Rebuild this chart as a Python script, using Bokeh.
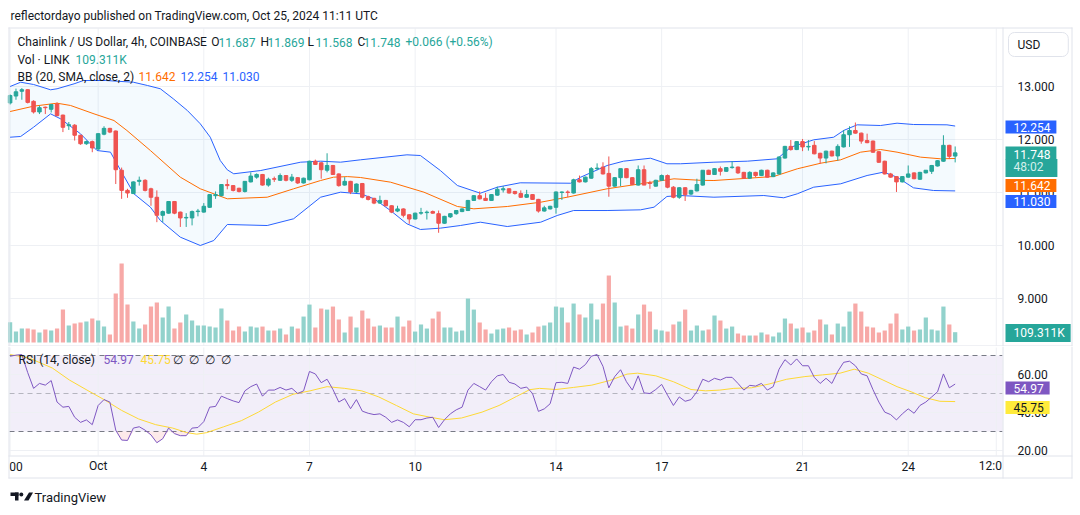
import numpy as np
from bokeh.plotting import figure
from bokeh.layouts import column
from bokeh.models import Range1d, Label
from bokeh.core.properties import value
from bokeh.embed import file_html
from bokeh.resources import INLINE

# ---------------- data (4h candles, Sep 28 12:00 -> Oct 25 08:00) ----------------
opens = [12.69, 12.82, 12.91, 12.94, 12.72, 12.52, 12.61, 12.57, 12.67, 12.46,
 12.26, 12.27, 12.08, 11.92, 11.96, 11.82, 12.10, 12.21, 12.16, 11.42,
 11.04, 10.98, 11.21, 11.23, 11.07, 10.91, 10.57, 10.61, 10.83, 10.63,
 10.52, 10.52, 10.64, 10.63, 10.72, 10.94, 10.94, 11.15, 11.13, 11.08,
 11.02, 11.20, 11.29, 11.34, 11.14, 11.26, 11.23, 11.32, 11.23, 11.28,
 11.18, 11.24, 11.59, 11.56, 11.42, 11.51, 11.35, 11.14, 11.21, 11.01,
 11.17, 10.92, 10.89, 10.80, 10.85, 10.75, 10.65, 10.69, 10.58, 10.50,
 10.61, 10.62, 10.64, 10.60, 10.42, 10.54, 10.60, 10.64, 10.66, 10.85,
 10.94, 10.89, 10.85, 10.95, 11.05, 11.07, 11.02, 10.98, 10.91, 10.96,
 10.87, 10.65, 10.69, 10.72, 11.00, 11.01, 10.99, 11.24, 11.20, 11.27,
 11.45, 11.48, 11.36, 11.12, 11.28, 11.45, 11.28, 11.14, 11.43, 11.18,
 11.12, 11.23, 11.32, 11.10, 10.91, 11.09, 10.97, 11.03, 11.14, 11.42,
 11.34, 11.45, 11.40, 11.47, 11.48, 11.38, 11.27, 11.38, 11.32, 11.42,
 11.30, 11.35, 11.65, 11.87, 11.81, 11.96, 11.86, 11.89, 11.74, 11.65,
 11.78, 11.69, 11.86, 12.09, 12.17, 12.12, 11.98, 11.97, 11.77, 11.59,
 11.35, 11.30, 11.20, 11.29, 11.37, 11.25, 11.37, 11.40, 11.50, 11.59,
 11.89, 11.687]
highs = [12.85, 12.96, 12.97, 12.95, 12.74, 12.64, 12.62, 12.67, 12.70, 12.47,
 12.33, 12.29, 12.09, 11.98, 11.98, 12.12, 12.25, 12.22, 12.17, 11.47,
 11.07, 11.21, 11.30, 11.25, 11.09, 11.04, 10.66, 10.84, 10.84, 10.64,
 10.61, 10.66, 10.69, 10.80, 10.97, 11.02, 11.16, 11.25, 11.14, 11.09,
 11.21, 11.38, 11.36, 11.35, 11.28, 11.30, 11.36, 11.33, 11.35, 11.29,
 11.28, 11.60, 11.62, 11.57, 11.74, 11.52, 11.36, 11.29, 11.22, 11.17,
 11.18, 10.94, 10.90, 10.94, 10.86, 10.76, 10.75, 10.70, 10.59, 10.62,
 10.71, 10.66, 10.66, 10.66, 10.56, 10.61, 10.67, 10.70, 10.86, 10.95,
 11.02, 10.99, 10.97, 11.11, 11.12, 11.08, 11.03, 11.04, 11.05, 10.97,
 10.88, 10.75, 10.75, 11.02, 11.02, 11.04, 11.26, 11.32, 11.30, 11.48,
 11.55, 11.57, 11.68, 11.29, 11.45, 11.46, 11.29, 11.51, 11.51, 11.22,
 11.24, 11.34, 11.34, 11.12, 11.10, 11.10, 11.05, 11.26, 11.42, 11.43,
 11.46, 11.49, 11.48, 11.59, 11.49, 11.39, 11.40, 11.39, 11.43, 11.43,
 11.38, 11.68, 11.88, 11.99, 11.97, 12.01, 11.99, 11.97, 11.75, 11.79,
 11.79, 11.91, 12.18, 12.25, 12.32, 12.13, 12.11, 11.98, 11.78, 11.60,
 11.37, 11.31, 11.31, 11.51, 11.38, 11.39, 11.42, 11.52, 11.61, 12.08,
 11.90, 11.869]
lows = [12.66, 12.75, 12.75, 12.68, 12.49, 12.48, 12.48, 12.51, 12.44, 12.14,
 12.18, 11.98, 11.90, 11.90, 11.76, 11.80, 12.08, 12.12, 11.16, 10.88,
 10.90, 10.97, 11.13, 11.02, 10.75, 10.44, 10.44, 10.60, 10.59, 10.35,
 10.35, 10.38, 10.55, 10.62, 10.71, 10.88, 10.93, 11.06, 11.02, 11.00,
 11.00, 11.19, 11.26, 11.13, 11.11, 11.20, 11.22, 11.21, 11.20, 11.16,
 11.17, 11.23, 11.52, 11.26, 11.38, 11.33, 11.11, 11.13, 10.97, 10.99,
 10.89, 10.85, 10.78, 10.79, 10.74, 10.61, 10.63, 10.53, 10.41, 10.49,
 10.58, 10.49, 10.60, 10.24, 10.41, 10.52, 10.58, 10.63, 10.65, 10.84,
 10.87, 10.84, 10.84, 10.94, 11.00, 10.98, 10.96, 10.90, 10.90, 10.86,
 10.62, 10.64, 10.68, 10.60, 10.86, 10.91, 10.98, 11.19, 11.19, 11.26,
 11.42, 11.34, 10.92, 11.11, 11.12, 11.27, 11.14, 11.13, 11.14, 11.07,
 11.11, 11.22, 11.08, 10.89, 10.88, 10.84, 10.95, 11.02, 11.13, 11.33,
 11.33, 11.32, 11.39, 11.45, 11.35, 11.26, 11.26, 11.29, 11.31, 11.28,
 11.29, 11.34, 11.64, 11.79, 11.80, 11.78, 11.79, 11.72, 11.54, 11.55,
 11.68, 11.60, 11.85, 11.86, 12.11, 11.92, 11.93, 11.75, 11.56, 11.34,
 11.28, 11.01, 11.19, 11.28, 11.25, 11.24, 11.36, 11.35, 11.49, 11.58,
 11.63, 11.568]
closes = [12.83, 12.90, 12.94, 12.70, 12.52, 12.60, 12.60, 12.66, 12.45, 12.23,
 12.28, 12.08, 11.92, 11.96, 11.84, 12.11, 12.21, 12.14, 11.43, 11.04,
 10.99, 11.20, 11.23, 11.04, 10.91, 10.57, 10.64, 10.83, 10.61, 10.52,
 10.53, 10.64, 10.65, 10.74, 10.96, 10.96, 11.15, 11.13, 11.04, 11.02,
 11.21, 11.31, 11.34, 11.14, 11.25, 11.25, 11.32, 11.23, 11.29, 11.18,
 11.27, 11.59, 11.53, 11.43, 11.51, 11.34, 11.13, 11.21, 11.01, 11.16,
 10.91, 10.87, 10.80, 10.85, 10.75, 10.63, 10.69, 10.57, 10.50, 10.61,
 10.62, 10.63, 10.61, 10.42, 10.55, 10.60, 10.66, 10.69, 10.85, 10.94,
 10.88, 10.85, 10.96, 11.06, 11.07, 10.99, 10.98, 10.91, 10.96, 10.87,
 10.65, 10.71, 10.74, 11.01, 11.01, 11.00, 11.24, 11.20, 11.29, 11.45,
 11.46, 11.35, 11.12, 11.28, 11.45, 11.28, 11.15, 11.43, 11.14, 11.17,
 11.23, 11.32, 11.10, 10.91, 11.09, 10.96, 11.04, 11.15, 11.42, 11.34,
 11.45, 11.40, 11.47, 11.48, 11.37, 11.27, 11.38, 11.32, 11.42, 11.29,
 11.37, 11.67, 11.87, 11.81, 11.96, 11.86, 11.87, 11.73, 11.65, 11.78,
 11.69, 11.87, 12.09, 12.17, 12.12, 11.97, 11.94, 11.76, 11.57, 11.35,
 11.29, 11.20, 11.30, 11.35, 11.26, 11.38, 11.42, 11.51, 11.60, 11.89,
 11.682, 11.748]
volume_k = [215, 116, 148, 148, 138, 106, 138, 127, 148, 349,
 180, 201, 212, 222, 254, 233, 169, 85, 519, 837,
 402, 222, 148, 191, 381, 424, 265, 381, 148, 212,
 297, 233, 180, 180, 169, 159, 360, 233, 127, 169,
 116, 169, 159, 169, 127, 127, 148, 85, 169, 148,
 275, 402, 159, 360, 349, 381, 244, 106, 275, 159,
 339, 254, 169, 180, 159, 159, 275, 169, 233, 116,
 191, 148, 254, 328, 159, 159, 116, 127, 466, 349,
 212, 138, 95, 138, 148, 159, 127, 138, 85, 106,
 169, 180, 212, 381, 371, 212, 413, 297, 265, 413,
 244, 413, 710, 424, 169, 180, 148, 297, 402, 328,
 138, 127, 116, 191, 222, 349, 127, 180, 127, 138,
 286, 233, 148, 169, 95, 74, 74, 74, 106, 85,
 64, 106, 254, 201, 148, 159, 106, 127, 244, 191,
 85, 201, 169, 328, 413, 328, 169, 159, 106, 127,
 201, 307, 138, 169, 127, 138, 265, 138, 127, 381,
 191, 109.311]

# Bollinger Bands (20, SMA, close, 2) at candle positions
bb_up_idx = [0, 1.8, 4, 6.9, 8, 10.9, 12.5, 16.3, 21, 23.4, 25.6, 27.8, 30.2, 32.4, 34.1, 35.8, 37, 38.1,
             42.7, 49.5, 52.9, 56.3, 59.7, 67.6, 69.9, 73.3, 76.2, 80.1, 83, 86.9, 95.5, 97.2, 101.7, 104.5,
             109.1, 111.9, 114.2, 119.9, 125.6, 130.7, 133, 136.9, 140.3, 142, 144.3, 148.3, 151.1, 153.9, 159.6, 161]
bb_up = [13.0, 13.081, 13.038, 12.938, 12.957, 13.051, 13.113, 13.113, 13.081, 13.019, 12.957, 12.768, 12.547,
         12.296, 12.043, 11.604, 11.428, 11.353, 11.415, 11.572, 11.591, 11.572, 11.617, 11.711, 11.698, 11.415,
         11.132, 10.987, 11.1, 11.183, 11.175, 11.289, 11.509, 11.591, 11.647, 11.542, 11.542, 11.572, 11.591,
         11.636, 11.855, 11.994, 12.043, 12.17, 12.277, 12.264, 12.308, 12.283, 12.277, 12.254]
bb_lo_idx = [0, 1.8, 4, 6.9, 8.6, 12, 14.8, 17.1, 18.2, 21.1, 23.9, 25.6, 29, 32.4, 34.7, 37, 43.8, 48.3, 52.9,
             56.3, 59.7, 62, 64.8, 67.6, 69.9, 73.3, 76.7, 80.1, 84.7, 90.4, 93.2, 96, 101.7, 107.4, 109.7, 111.9,
             114.2, 119.9, 128.4, 131.8, 134.1, 136.9, 141.5, 146, 148.8, 151.1, 153.9, 157.3, 161]
bb_lo = [12.043, 12.057, 12.232, 12.484, 12.39, 12.107, 11.792, 11.761, 11.541, 10.975, 10.723, 10.472, 10.157,
         10.0, 10.094, 10.396, 10.377, 10.504, 10.911, 11.006, 10.975, 10.881, 10.66, 10.409, 10.302, 10.327,
         10.377, 10.44, 10.358, 10.44, 10.566, 10.66, 10.66, 10.673, 10.723, 10.925, 10.943, 10.911, 10.943,
         10.9, 10.975, 11.1, 11.164, 11.321, 11.384, 11.289, 11.088, 11.038, 11.03]
bb_mid_idx = [0, 4, 8, 10.3, 14.3, 17.7, 19.9, 23.9, 29, 32.4, 37, 43.8, 48.3, 52.9, 55.1, 57.5, 59.7, 64.8, 70.5,
              76.2, 79, 84.7, 90.4, 94.9, 101.7, 107.4, 113.1, 117.6, 119.9, 130.1, 134.1, 138.1, 141.5, 144.9,
              148.3, 151.1, 155.1, 158.5, 161]
bb_mid = [12.528, 12.629, 12.685, 12.642, 12.484, 12.358, 12.17, 11.792, 11.289, 11.07, 10.881, 10.911, 11.07,
          11.226, 11.289, 11.30, 11.283, 11.195, 11.006, 10.736, 10.692, 10.736, 10.817, 10.911, 11.07, 11.164,
          11.258, 11.23, 11.226, 11.302, 11.447, 11.553, 11.617, 11.761, 11.811, 11.761, 11.667, 11.636, 11.642]

# RSI (14, close) per candle and its moving average
rsi = [69.6, 70.2, 70.5, 61.0, 52.7, 55.3, 54.4, 56.8, 45.5, 42.8,
 43.2, 37.5, 34.8, 36.1, 33.6, 43.7, 46.8, 45.5, 30.7, 25.5,
 25.3, 31.8, 32.5, 30.7, 28.2, 24.1, 26.2, 31.8, 28.9, 27.8,
 27.8, 31.8, 32.1, 35.2, 42.8, 43.2, 48.6, 47.3, 46.1, 45.2,
 51.4, 53.6, 55.0, 48.6, 51.8, 51.8, 53.2, 51.8, 52.7, 50.0,
 51.4, 61.6, 60.3, 55.7, 57.5, 52.1, 45.5, 47.3, 42.0, 46.8,
 40.7, 39.6, 38.9, 39.3, 37.5, 34.8, 36.1, 34.8, 32.5, 36.2,
 36.2, 37.1, 37.5, 32.1, 36.2, 39.3, 41.4, 42.8, 51.8, 55.3,
 53.6, 51.8, 56.2, 59.3, 60.0, 55.9, 55.0, 52.7, 53.4, 50.0,
 40.6, 41.9, 44.6, 55.7, 55.9, 55.3, 63.9, 62.8, 65.2, 69.6,
 70.5, 64.3, 53.0, 58.9, 62.5, 56.2, 51.8, 59.3, 50.3, 50.0,
 52.1, 54.8, 49.1, 43.7, 48.2, 45.9, 46.8, 50.9, 57.5, 56.2,
 58.0, 57.1, 58.5, 58.5, 55.3, 51.8, 54.3, 53.9, 55.3, 51.8,
 53.6, 62.8, 67.8, 65.0, 68.2, 64.6, 64.6, 58.5, 55.3, 58.0,
 55.3, 61.6, 66.4, 67.0, 64.6, 60.3, 59.3, 52.0, 45.5, 40.2,
 38.9, 36.1, 39.3, 41.9, 39.6, 43.7, 45.5, 48.2, 50.9, 60.3,
 53.0, 54.97]
rsi_ma_idx = [0, 3.2, 7.2, 10.1, 13.1, 16, 19, 21.9, 24.8, 27.7, 30.1, 31.8, 33.5, 36.4, 39.4, 42.3, 45.2, 48.2,
              51.1, 54, 57, 59.9, 62.8, 65.8, 68.7, 71.6, 74, 76.9, 80.4, 83.3, 86.3, 88.5, 90.2, 93, 96, 99.1,
              102.1, 105.1, 106.9, 110, 113, 116, 118.5, 120.9, 123.3, 126.3, 129.3, 132.3, 135.4, 138.4, 141.4,
              143.8, 146.2, 148.7, 151.1, 153.5, 155.9, 158.4, 161]
rsi_ma = [70.5, 68.7, 63.4, 57.1, 51.8, 46.8, 41.1, 36.6, 33.6, 31.8, 29.4, 28.6, 29.4, 32.5, 35.7, 40.2, 45.5,
          49.6, 51.4, 53.6, 52.7, 51.4, 48.2, 43.7, 39.3, 37.5, 36.2, 37.1, 40.2, 43.7, 48.5, 52.0, 52.7, 52.1,
          53.2, 54.4, 56.8, 60.2, 60.7, 59.3, 56.2, 52.1, 51.4, 51.8, 52.7, 53.0, 55.0, 57.5, 58.9, 59.8, 60.7,
          62.8, 60.7, 57.1, 53.6, 50.9, 47.8, 45.9, 45.75]

# axes
grid_ticks = [0, 15, 33, 51, 69, 93, 111, 135, 153, 168]
time_ticks = [1, 15, 33, 51, 69, 93, 111, 135, 153, 167]
time_labels = ["00", "Oct", "4", "7", "10", "14", "17", "21", "24", "12:0"]
price_ticks = [9, 10, 11, 12, 13]
rsi_ticks = [20, 40, 60]

# ---------------- styling / layout helpers ----------------
FONT = "Roboto"
TXT = "#131722"
GRID = "#eef0f4"
BORDER = "#e0e3eb"
UP, DOWN = "#26a69a", "#ef5350"
UPV, DOWNV = "#92d2cc", "#f7a9a7"
W, H1, H2 = 1080, 346, 169
X0, PITCH = 9.6, 5.87            # pixel x of candle 0, pixels per candle


def ix(px):                      # page pixel x -> candle index units
    return (px - X0) / PITCH


def p1y(py):                     # page pixel y -> price (main pane)
    return 12 - (py - 139) / 53


def p2y(py):                     # page pixel y -> RSI value (lower pane)
    return 70 - (py - 355) / 1.9


o = np.array(opens); c = np.array(closes); h = np.array(highs); l = np.array(lows)
idx = np.arange(len(c))
is_up = c >= o
ccol = [UP if u else DOWN for u in is_up]
vcol = [UPV if u else DOWNV for u in is_up]

xr = Range1d(ix(0), ix(W))


def make_fig(height, yr):
    p = figure(width=W, height=height, x_range=xr, y_range=yr, x_axis_location=None,
               y_axis_location=None, output_backend="svg", toolbar_location=None, min_border=0)
    p.outline_line_color = None
    p.xgrid.visible = False
    p.ygrid.visible = False
    p.background_fill_color = "white"
    p.border_fill_color = "white"
    return p


def label(p, x, y, text, color=TXT, size="12px", **kw):
    lb = Label(x=x, y=y, x_units="screen", y_units="screen", text=text, text_color=color,
               text_font=FONT, text_font_size=size, text_baseline="middle", **kw)
    p.add_layout(lb)
    return lb


def hseg(p, ys, x0, x1, **kw):
    p.segment(x0=[x0] * len(ys), x1=[x1] * len(ys), y0=ys, y1=ys, **kw)


def vseg(p, xs, y0, y1, **kw):
    p.segment(x0=xs, x1=xs, y0=[y0] * len(xs), y1=[y1] * len(xs), **kw)


# ---------------- main pane ----------------
p1 = make_fig(H1, Range1d(p1y(H1), p1y(0)))
p1.extra_y_ranges = {"vol": Range1d(-(H1 - 342) * 10.6, 342 * 10.6)}

vseg(p1, grid_ticks, p1y(28), p1y(345), line_color=GRID)
hseg(p1, price_ticks, ix(9), ix(1002), line_color=GRID)

p1.patch(list(bb_up_idx) + list(bb_lo_idx[::-1]), list(bb_up) + list(bb_lo[::-1]),
         fill_color="#2196f3", fill_alpha=0.05, line_color=None)
p1.vbar(x=idx, top=volume_k, bottom=0, width=0.72, fill_color=vcol, line_color=None, y_range_name="vol")
p1.line(bb_up_idx, bb_up, line_color="#2962ff", line_width=1)
p1.line(bb_lo_idx, bb_lo, line_color="#2962ff", line_width=1)
p1.line(bb_mid_idx, bb_mid, line_color="#ff6d00", line_width=1)
p1.segment(idx, l, idx, h, line_color=ccol, line_width=1)
p1.vbar(x=idx, top=np.maximum(o, c), bottom=np.minimum(o, c), width=0.6,
        fill_color=ccol, line_color=ccol, line_width=1)

# price scale labels
p1.text(x=[ix(1017)] * len(price_ticks), y=price_ticks, text=[f"{t:.3f}" for t in price_ticks],
        text_font=value(FONT), text_font_size="12px", text_color=TXT, text_baseline="middle")

# panel borders
hseg(p1, [p1y(27.5), p1y(345.5)], ix(8), ix(1072), line_color=BORDER)
vseg(p1, [ix(8.5), ix(1002.5), ix(1071.5)], p1y(27), p1y(346), line_color=BORDER)

# header & legend
label(p1, 10, H1 - 15, "reflectordayo published on TradingView.com, Oct 25, 2024 11:11 UTC", size="12px")
chg = c[-1] - c[-2]
pct = chg / c[-2] * 100
ly1 = H1 - 41.7
legend1 = [(17, "Chainlink / US Dollar, 4h, COINBASE", TXT), (210.7, "O", TXT), (218, f"{o[-1]:.3f}", UP),
           (260, "H", TXT), (267, f"{h[-1]:.3f}", UP), (307, "L", TXT), (315, f"{l[-1]:.3f}", UP),
           (357, "C", TXT), (363, f"{c[-1]:.3f}", UP), (405, f"+{chg:.3f} (+{pct:.2f}%)", UP)]
for x, t, col in legend1:
    label(p1, x, ly1, t, col)
label(p1, 17, H1 - 59.3, "Vol · LINK", TXT)
label(p1, 75, H1 - 59.3, f"{volume_k[-1]:.3f}K", UP)
label(p1, 17, H1 - 76, "BB (20, SMA, close, 2)", TXT)
label(p1, 138, H1 - 76, f"{bb_mid[-1]:.3f}", "#ff6d00")
label(p1, 180, H1 - 76, f"{bb_up[-1]:.3f}", "#2962ff")
label(p1, 222, H1 - 76, f"{bb_lo[-1]:.3f}", "#2962ff")

# price scale tags (label x = left edge of the tag box)
pad = dict(left=8, right=6, top=2, bottom=2)
label(p1, 1008, H1 - 44, "USD", border_line_color=BORDER, border_radius=6,
      padding=dict(left=9, right=28, top=5, bottom=5))
label(p1, 1005, H1 - 126.5, f"{bb_up[-1]:.3f}", "white", background_fill_color="#2962ff", padding=pad)
label(p1, 1005, H1 - 152.5, f"{c[-1]:.3f}", "white", background_fill_color=UP,
      padding=dict(left=8, right=6, top=3, bottom=1))
label(p1, 1005, H1 - 167.5, "48:02", "#d4f0ec", background_fill_color=UP,
      padding=dict(left=8, right=14, top=1, bottom=3))
label(p1, 1005, H1 - 185, f"{bb_mid[-1]:.3f}", "white", background_fill_color="#ff6d00", padding=pad)
label(p1, 1005, H1 - 201, f"{bb_lo[-1]:.3f}", "white", background_fill_color="#2962ff", padding=pad)
label(p1, 1005, H1 - 332.6, f"{volume_k[-1]:.3f}K", "white", background_fill_color=UP, padding=pad)

# ---------------- RSI pane ----------------
p2 = make_fig(H2, Range1d(p2y(H1 + H2), p2y(H1)))
T2 = H1 + H2  # page y of the bottom of the lower figure

p2.quad(left=[ix(9)], right=[ix(1002)], bottom=[30], top=[70], fill_color="#7e57c2", fill_alpha=0.1,
        line_color=None)
vseg(p2, grid_ticks, p2y(347), p2y(455), line_color=GRID)
hseg(p2, rsi_ticks, ix(9), ix(1002), line_color=GRID)
hseg(p2, [70, 30], ix(9), ix(1002), line_color="#787b86", line_dash="5 4")
hseg(p2, [50], ix(9), ix(1002), line_color="#787b86", line_alpha=0.5, line_dash="5 4")
r = np.array(rsi)
p2.varea(x=idx, y1=np.minimum(r, 30), y2=30, fill_color="#ef5350", fill_alpha=0.12)
p2.varea(x=idx, y1=70, y2=np.maximum(r, 70), fill_color="#26a69a", fill_alpha=0.12)
p2.line(rsi_ma_idx, rsi_ma, line_color="#fdd835", line_width=1)
p2.line(idx, rsi, line_color="#7e57c2", line_width=1)

p2.text(x=[ix(1017)] * len(rsi_ticks), y=rsi_ticks, text=[f"{t:.2f}" for t in rsi_ticks],
        text_font=value(FONT), text_font_size="12px", text_color=TXT, text_baseline="middle")
# time scale row
p2.quad(left=[ix(8)], right=[ix(1072)], bottom=[p2y(478)], top=[p2y(455.5)], fill_color="white",
        line_color=None)
p2.text(x=time_ticks, y=[p2y(465.5)] * len(time_ticks), text=time_labels, text_font=value(FONT),
        text_font_size="12px", text_color=TXT, text_baseline="middle", text_align="center")
# borders
hseg(p2, [p2y(455.5), p2y(477.5)], ix(8), ix(1072), line_color=BORDER)
vseg(p2, [ix(8.5), ix(1002.5), ix(1071.5)], p2y(346), p2y(478), line_color=BORDER)

# legend
ly2 = T2 - 359
label(p2, 18, ly2, "RSI (14, close)", TXT)
label(p2, 103, ly2, f"{rsi[-1]:.2f}", "#7e57c2")
label(p2, 140, ly2, f"{rsi_ma[-1]:.2f}", "#fdd835")
for xx in (172, 188, 204, 220):
    label(p2, xx, ly2, "∅", TXT)
label(p2, 1005, T2 - 387.5, f"{rsi[-1]:.2f}", "white", background_fill_color="#7e57c2", padding=pad)
label(p2, 1005, T2 - 407, f"{rsi_ma[-1]:.2f}", TXT, background_fill_color="#ffeb3b", padding=pad)

# footer logo + wordmark
p2.quad(left=[ix(10), ix(14.5)], right=[ix(18), ix(18)], top=[p2y(492), p2y(492)],
        bottom=[p2y(495.5), p2y(500)], fill_color=TXT, line_color=None)
p2.scatter(x=[ix(20.8)], y=[p2y(494)], size=4, fill_color=TXT, line_color=None)
p2.patch([ix(23.5), ix(28), ix(32.5), ix(28.5)], [p2y(500), p2y(500), p2y(492), p2y(492)],
         fill_color=TXT, line_color=None)
label(p2, 34, T2 - 497, "TradingView", TXT, "13px")

layout = column(p1, p2, spacing=0)
open("out.html", "w").write(file_html(layout, INLINE))
